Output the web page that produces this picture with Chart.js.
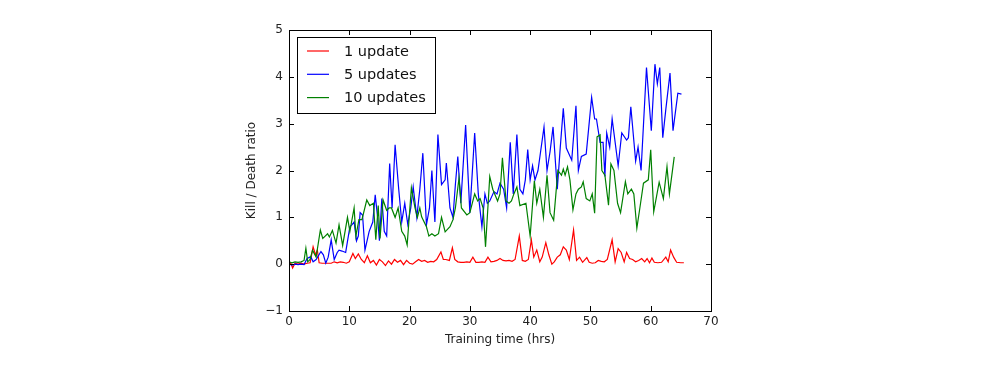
<!DOCTYPE html>
<html>
<head>
<meta charset="utf-8">
<script src="https://cdn.jsdelivr.net/npm/chart.js@4.4.1/dist/chart.umd.min.js"></script>
<style>
  html, body { margin: 0; padding: 0; background: #fff; }
  canvas { display: block; }
</style>
</head>
<body>
<canvas id="kdChart" width="1000" height="368"></canvas>
<script>
// Readings: training hours and kill/death ratio per run
const redHours = [0, 0.3, 0.6, 1.0, 1.5, 2.0, 2.5, 3.0, 3.5, 4.0, 4.4, 4.7, 5.0, 5.5, 6.0, 7.0, 7.5, 8.0, 8.5, 9.0, 9.5, 10.0, 10.6, 11.0, 11.5, 12.0, 12.5, 13.0, 13.5, 14.0, 14.5, 15.0, 15.5, 16.0, 16.5, 17.0, 17.5, 18.0, 18.5, 19.0, 19.5, 20.0, 20.5, 21.0, 21.5, 22.0, 22.5, 23.0, 23.5, 24.0, 24.5, 25.2, 25.6, 26.0, 26.6, 27.1, 27.5, 28.0, 28.5, 29.0, 29.5, 30.0, 30.5, 31.0, 31.5, 32.0, 32.5, 33.0, 33.5, 34.0, 34.5, 35.0, 35.5, 36.0, 36.5, 37.0, 37.5, 38.2, 38.7, 39.2, 39.7, 40.2, 40.6, 41.1, 41.6, 42.0, 42.6, 43.1, 43.6, 44.0, 44.5, 45.0, 45.5, 46.0, 46.5, 47.2, 47.7, 48.2, 48.7, 49.4, 49.8, 50.3, 50.8, 51.3, 51.8, 52.3, 52.8, 53.6, 54.1, 54.6, 55.1, 55.6, 56.0, 56.5, 57.0, 57.5, 58.0, 58.5, 59.0, 59.4, 59.8, 60.2, 60.6, 61.2, 61.8, 62.5, 62.9, 63.3, 63.8, 64.3, 65.0, 65.5];
const redRatio = [0.0, 0.02, -0.08, 0.02, 0.0, 0.02, 0.0, 0.02, 0.03, 0.37, 0.2, 0.3, 0.03, 0.02, 0.02, 0.02, 0.05, 0.03, 0.05, 0.04, 0.02, 0.05, 0.23, 0.12, 0.22, 0.1, 0.03, 0.18, 0.03, 0.08, -0.02, 0.1, 0.05, -0.03, 0.07, 0.0, 0.1, 0.04, 0.08, -0.01, 0.08, 0.02, 0.0, 0.05, 0.1, 0.06, 0.08, 0.04, 0.06, 0.05, 0.1, 0.26, 0.1, 0.1, 0.08, 0.35, 0.1, 0.05, 0.04, 0.04, 0.05, 0.04, 0.15, 0.04, 0.04, 0.05, 0.04, 0.15, 0.05, 0.06, 0.08, 0.12, 0.08, 0.07, 0.08, 0.06, 0.1, 0.6, 0.08, 0.06, 0.1, 0.52, 0.15, 0.3, 0.05, 0.15, 0.46, 0.2, 0.0, 0.05, 0.15, 0.2, 0.37, 0.3, 0.1, 0.73, 0.08, 0.15, 0.04, 0.14, 0.04, 0.02, 0.03, 0.08, 0.06, 0.05, 0.1, 0.52, 0.05, 0.33, 0.25, 0.05, 0.25, 0.12, 0.1, 0.05, 0.08, 0.12, 0.05, 0.12, 0.03, 0.13, 0.04, 0.03, 0.04, 0.15, 0.05, 0.3, 0.15, 0.04, 0.03, 0.03];

const blueHours = [0, 0.5, 1.0, 1.5, 2.0, 2.5, 3.0, 3.6, 4.0, 4.5, 5.3, 5.7, 6.1, 6.5, 7.0, 7.5, 8.0, 8.3, 8.8, 9.4, 10.1, 10.5, 10.8, 11.2, 11.5, 11.8, 12.2, 12.6, 13.3, 13.9, 14.3, 14.7, 15.0, 15.4, 15.8, 16.2, 16.7, 17.1, 17.6, 18.2, 18.7, 19.2, 19.7, 20.2, 20.6, 21.2, 21.7, 22.2, 22.8, 23.3, 23.7, 24.2, 24.7, 25.3, 25.9, 26.1, 26.7, 27.2, 27.6, 28.0, 28.5, 29.3, 30.0, 30.8, 31.4, 32.0, 32.5, 32.9, 33.3, 34.0, 34.5, 35.0, 35.6, 36.1, 36.7, 37.2, 37.8, 38.3, 38.8, 39.2, 39.6, 40.0, 40.4, 40.8, 41.3, 42.3, 42.8, 43.3, 43.8, 44.5, 45.0, 45.5, 46.0, 46.9, 47.6, 48.0, 48.5, 49.3, 50.2, 50.7, 51.0, 51.6, 52.1, 52.4, 52.7, 53.2, 53.6, 54.6, 55.2, 56.0, 56.3, 56.7, 57.5, 57.9, 58.4, 59.3, 60.1, 60.7, 61.1, 61.5, 62.0, 62.5, 63.2, 63.7, 64.5, 65.1];
const blueRatio = [0.0, -0.02, 0.0, -0.01, 0.0, -0.01, 0.12, 0.16, 0.05, 0.1, 0.27, 0.2, 0.02, 0.15, 0.52, 0.1, 0.25, 0.3, 0.28, 0.25, 0.8, 0.85, 0.9, 0.5, 0.6, 1.1, 1.05, 0.3, 0.7, 0.9, 1.48, 1.0, 0.5, 1.4, 0.7, 0.6, 2.15, 1.2, 2.55, 1.6, 0.9, 1.3, 0.85, 1.2, 1.65, 1.0, 1.6, 2.37, 0.84, 1.2, 2.0, 0.9, 2.77, 1.7, 1.8, 2.16, 1.2, 1.0, 1.7, 2.3, 1.3, 2.97, 1.1, 2.8, 1.5, 0.8, 1.5, 1.3, 1.35, 1.55, 1.5, 1.73, 1.6, 1.2, 2.6, 1.5, 2.77, 1.6, 1.5, 1.8, 2.45, 1.8, 2.1, 1.8, 2.0, 2.93, 2.0, 2.4, 2.93, 1.6, 2.5, 3.33, 2.48, 2.22, 3.38, 2.0, 2.3, 2.35, 3.56, 3.1, 3.1, 2.6, 2.6, 1.87, 2.8, 2.5, 3.1, 2.1, 2.8, 2.65, 2.7, 3.36, 2.2, 2.5, 2.0, 4.2, 2.85, 4.27, 3.85, 4.2, 2.7, 3.3, 4.08, 2.85, 3.65, 3.63];

const greenHours = [0, 0.5, 1.0, 1.5, 2.0, 2.5, 2.8, 3.1, 3.5, 3.9, 4.5, 5.2, 5.6, 6.0, 6.4, 6.7, 7.2, 7.8, 8.3, 8.9, 9.7, 10.1, 10.8, 11.1, 11.6, 12.1, 12.9, 13.4, 14.0, 14.4, 14.8, 15.1, 15.6, 16.2, 16.6, 17.0, 17.6, 18.1, 18.7, 19.2, 19.6, 20.3, 20.9, 21.3, 21.7, 22.0, 22.8, 23.2, 23.7, 24.2, 24.8, 25.3, 25.9, 26.7, 27.2, 27.6, 28.2, 28.6, 29.5, 30.0, 30.8, 31.3, 31.7, 32.2, 32.6, 33.3, 33.8, 34.6, 35.0, 35.4, 36.0, 36.5, 36.9, 37.3, 37.8, 38.3, 39.3, 40.0, 40.7, 41.1, 41.6, 42.2, 42.8, 43.3, 43.9, 44.6, 45.2, 45.5, 45.8, 46.2, 46.6, 47.1, 47.6, 48.0, 48.5, 48.8, 49.3, 49.9, 50.3, 50.7, 51.1, 51.6, 51.9, 52.4, 53.0, 53.4, 53.9, 54.5, 55.0, 55.8, 56.2, 56.8, 57.2, 57.7, 58.2, 58.8, 59.6, 60.0, 60.5, 61.4, 62.1, 62.7, 63.1, 63.9];
const greenRatio = [0.05, 0.03, 0.05, 0.04, 0.05, 0.08, 0.34, 0.05, 0.1, 0.3, 0.15, 0.73, 0.55, 0.6, 0.65, 0.58, 0.72, 0.45, 0.84, 0.4, 1.0, 0.7, 1.2, 0.6, 0.95, 0.95, 1.37, 1.25, 1.3, 0.52, 1.25, 0.55, 1.37, 1.15, 1.2, 1.2, 1.0, 1.2, 0.7, 0.6, 0.41, 1.63, 1.2, 1.0, 1.2, 1.01, 0.8, 0.6, 0.65, 0.6, 0.65, 1.0, 0.69, 0.8, 0.95, 1.2, 1.84, 1.2, 1.05, 1.1, 1.5, 1.35, 1.4, 1.2, 0.37, 1.87, 1.6, 1.35, 1.5, 2.27, 1.35, 1.3, 1.35, 1.5, 1.65, 1.25, 1.3, 0.6, 1.78, 1.3, 1.6, 1.0, 1.9, 1.1, 0.94, 2.0, 1.9, 2.03, 1.9, 2.08, 1.8, 1.16, 1.5, 1.6, 1.65, 1.76, 1.4, 1.35, 1.5, 1.09, 2.72, 2.76, 2.0, 1.9, 1.26, 2.14, 2.0, 1.3, 1.1, 1.76, 1.5, 1.6, 1.5, 0.77, 1.2, 1.73, 1.8, 2.44, 1.12, 1.75, 1.4, 2.08, 1.5, 2.29];

const seriesLabels = ["1 update", "5 updates", "10 updates"];
const xTickStep = 10;
const yTickStep = 1;

const FONT = "'DejaVu Sans', sans-serif";

function toPoints(hours, ratio) {
    return hours.map((h, i) => ({ x: h, y: ratio[i] }));
}

// matplotlib-like frame, inward ticks on all four sides, and legend box inside the plot
const mplDecor = {
    id: "mplDecor",
    afterDatasetsDraw(chart) {
        const ctx = chart.ctx;
        const a = chart.chartArea;
        const xs = chart.scales.x;
        const ys = chart.scales.y;
        const tl = 5;
        ctx.save();
        ctx.strokeStyle = "#000";
        ctx.lineWidth = 1;
        ctx.beginPath();
        xs.ticks.forEach(t => {
            const px = Math.round(xs.getPixelForValue(t.value)) + 0.5;
            ctx.moveTo(px, a.bottom); ctx.lineTo(px, a.bottom - tl);
            ctx.moveTo(px, a.top); ctx.lineTo(px, a.top + tl);
        });
        ys.ticks.forEach(t => {
            const py = Math.round(ys.getPixelForValue(t.value)) + 0.5;
            ctx.moveTo(a.left, py); ctx.lineTo(a.left + tl, py);
            ctx.moveTo(a.right, py); ctx.lineTo(a.right - tl, py);
        });
        ctx.stroke();
        ctx.strokeRect(Math.round(a.left) + 0.5, Math.round(a.top) + 0.5,
            Math.round(a.right - a.left), Math.round(a.bottom - a.top));

        // legend
        const lx = 297, ly = 37, lw = 138, lh = 76;
        ctx.fillStyle = "#fff";
        ctx.fillRect(lx, ly, lw, lh);
        ctx.strokeRect(lx + 0.5, ly + 0.5, lw, lh);
        ctx.font = "14.5px " + FONT;
        ctx.textBaseline = "middle";
        chart.data.datasets.forEach((ds, i) => {
            const y = 51 + i * 23.3;
            ctx.strokeStyle = ds.borderColor;
            ctx.lineWidth = 1.2;
            ctx.beginPath();
            ctx.moveTo(307, y); ctx.lineTo(329, y);
            ctx.stroke();
            ctx.fillStyle = "#111";
            ctx.fillText(ds.label, 344, y + 1);
        });
        ctx.restore();
    }
};

const ctx = document.getElementById("kdChart").getContext("2d");
new Chart(ctx, {
    type: "line",
    data: {
        datasets: [
            { label: seriesLabels[0], data: toPoints(redHours, redRatio), borderColor: "#ff0000", order: 2 },
            { label: seriesLabels[1], data: toPoints(blueHours, blueRatio), borderColor: "#0000ff", order: 1 },
            { label: seriesLabels[2], data: toPoints(greenHours, greenRatio), borderColor: "#008000", order: 0 },
        ],
    },
    options: {
        responsive: false,
        animation: false,
        devicePixelRatio: 1,
        layout: { padding: { left: 236, right: 289, top: 30, bottom: 17 } },
        elements: {
            line: { borderWidth: 1.2, tension: 0, fill: false },
            point: { radius: 0 },
        },
        plugins: {
            legend: { display: false },
            tooltip: { enabled: false },
        },
        scales: {
            x: {
                type: "linear",
                min: 0,
                max: 70,
                grid: { display: false, drawTicks: false },
                border: { display: false },
                ticks: { stepSize: xTickStep, padding: 4, color: "#222", font: { family: FONT, size: 12 } },
                title: { display: true, text: "Training time (hrs)", color: "#222",
                    font: { family: FONT, size: 12 }, padding: { top: 0, bottom: 4 } },
                afterFit(scale) { scale.height = 40; },
            },
            y: {
                min: -1,
                max: 5,
                grid: { display: false, drawTicks: false },
                border: { display: false },
                ticks: {
                    stepSize: yTickStep, padding: 6, color: "#222", font: { family: FONT, size: 12 },
                    callback: v => (v < 0 ? "\u2212" + Math.abs(v) : String(v)),
                },
                title: { display: true, text: "Kill / Death ratio", color: "#222",
                    font: { family: FONT, size: 12 }, padding: { top: 9, bottom: 0 } },
                afterFit(scale) { scale.width = 53; },
            },
        },
    },
    plugins: [mplDecor],
});
</script>
</body>
</html>
